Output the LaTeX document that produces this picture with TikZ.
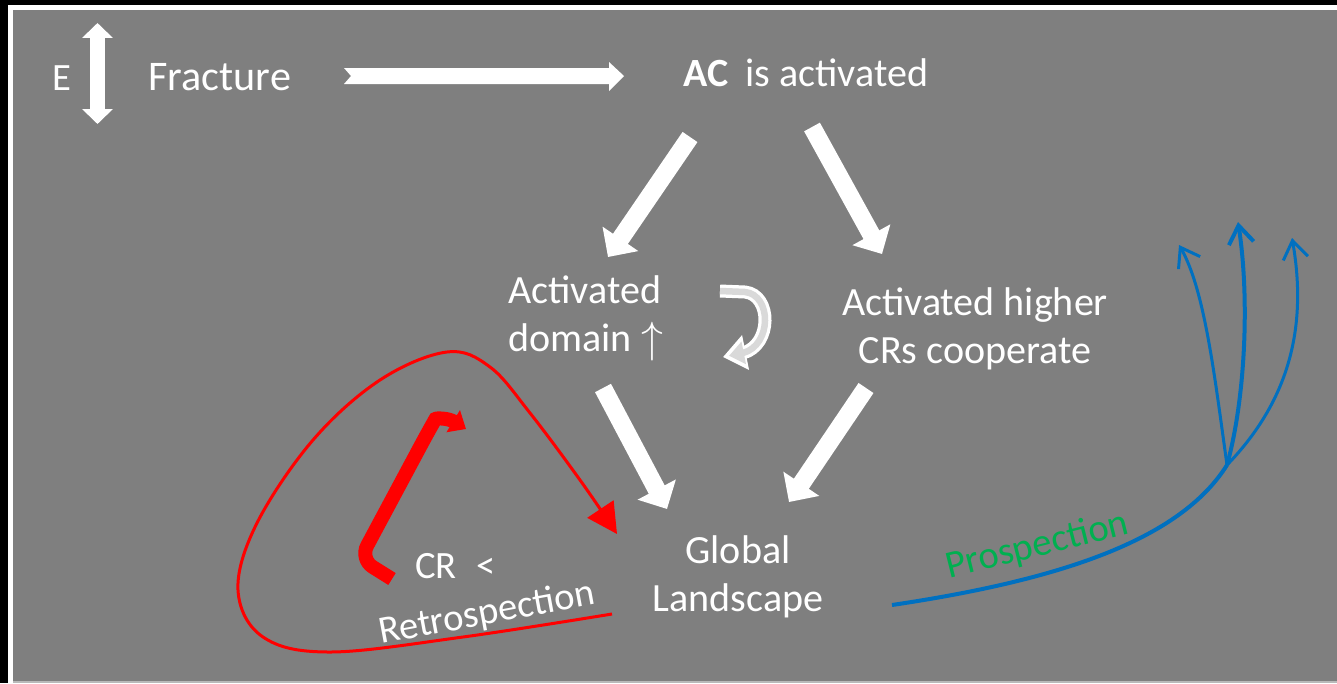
\documentclass[tikz,border=0pt]{standalone}
\usepackage{fontspec}
\setmainfont{Carlito}
\usetikzlibrary{arrows.meta}

\definecolor{slide}{HTML}{7F7F7F}
\definecolor{pblue}{HTML}{0070C0}
\definecolor{pgreen}{HTML}{00B050}
\definecolor{uturn}{HTML}{D9D9D9}

\tikzset{
  txt/.style={text=white,font=\fontsize{24}{27.3}\selectfont,inner sep=0pt},
  midtxt/.style={text=white,font=\fontsize{22.8}{27.3}\selectfont,inner sep=0pt},
  smalltxt/.style={text=white,font=\fontsize{22}{26}\selectfont,inner sep=0pt},
  block/.style={white,line width=0.36cm,-{Triangle[length=0.44cm,width=0.84cm]}},
  branch/.style={pblue,line width=0.06cm,-{Straight Barb[length=0.36cm,width=0.5cm]}},
}

\begin{document}
\begin{tikzpicture}[x=0.02cm,y=-0.02cm]
\useasboundingbox (0,0) rectangle (1337,683);
% frame and slide
\fill[black] (0,0) rectangle (1337,683);
\fill[white] (8,5) rectangle (1337,683);
\fill[slide] (13,10) rectangle (1337,681);
\fill[gray!55] (13,681) rectangle (1337,683);

% top row
\node[smalltxt,anchor=base] (e) at (62,90) {E};
\coordinate (etop) at (97.5,23);
\coordinate (ebot) at (97.5,124);
\draw[white,line width=0.3cm,{Triangle[length=0.3cm,width=0.6cm]}-{Triangle[length=0.3cm,width=0.6cm]}] (etop) -- (ebot);
\node[txt,anchor=base west] (frac) at (148,90) {Fracture};
\fill[white] (344,68) -- (351,76) -- (344,84) -- (609,84) -- (609,91) -- (624,76) -- (609,62) -- (609,68) -- cycle;
\node[midtxt,anchor=base west] (ac) at (683,86) {\textbf{AC}\hspace{0.2em} is activated};

% middle row (base = last line)
\node[midtxt,anchor=base west,align=left] (dom) at (508,351) {Activated\\domain \raisebox{-1pt}{\scalebox{1.2}{$\uparrow$}}};
\node[midtxt,anchor=base,align=center] (crs) at (975,363) {Activated higher\\CRs cooperate};
\node[midtxt,anchor=base,align=center] (glob) at (738,611) {Global\\Landscape};

% block arrows
\coordinate (a1) at (690,137);
\coordinate (a2) at (608,257);
\coordinate (b1) at (812,127);
\coordinate (b2) at (882,254);
\coordinate (c1) at (603,388);
\coordinate (c2) at (667,509);
\coordinate (d1) at (866,388);
\coordinate (d2) at (789,502);
\draw[block] (a1) -- (a2);
\draw[block] (b1) -- (b2);
\draw[block] (c1) -- (c2);
\draw[block] (d1) -- (d2);

% u-turn between the two middle boxes
\coordinate (u1) at (720,291);
\coordinate (u2) at (723,357);
\draw[white,line width=0.26cm,-{Triangle[length=0.46cm,width=0.68cm]}] (u1) -- (745,292) .. controls (772,295) and (772,345) .. (743,353) -- (u2);
\draw[uturn,line width=0.13cm,-{Triangle[length=0.3cm,width=0.44cm]},shorten >=3.5pt] (u1) -- (745,292) .. controls (772,295) and (772,345) .. (743,353) -- (u2);

% retrospection
\node[smalltxt,anchor=base west] (cr) at (415,578) {CR\hspace{0.5em}<};
\node[smalltxt,anchor=base,rotate=10.5] (retro) at (489,624) {Retrospection};
\coordinate (r0) at (612,614);
\coordinate (r1) at (617,534);
\draw[red,line width=0.06cm,-{Triangle[length=0.6cm,width=0.62cm]}] plot[smooth,tension=0.6] coordinates {(r0) (463,637) (330,652) (263,637) (238,590) (257,523) (313,440) (380,380) (447,352) (490,367) (530,413) (580,480) (r1)};
\coordinate (s0) at (392,579);
\coordinate (s1) at (466,429);
\draw[red,line width=0.28cm,rounded corners=0.3cm,-{Triangle[length=0.3cm,width=0.5cm]}] (s0) -- (360,559) -- (428,432) .. controls (436,418) and (448,418) .. (s1);

% prospection
\coordinate (p0) at (892,605);
\coordinate (j) at (1227,465);
\draw[pblue,line width=0.08cm] (p0) .. controls (1060,580) and (1180,540) .. (j);
\draw[branch] (j) .. controls (1215,380) and (1205,290) .. (1179,245);
\draw[branch,line width=0.08cm] (j) .. controls (1245,400) and (1250,300) .. (1238,222);
\draw[branch] (j) .. controls (1280,410) and (1310,340) .. (1292,238);
\node[smalltxt,text=pgreen,anchor=base,rotate=14] (pro) at (1040,556) {Prospection};
\end{tikzpicture}
\end{document}
